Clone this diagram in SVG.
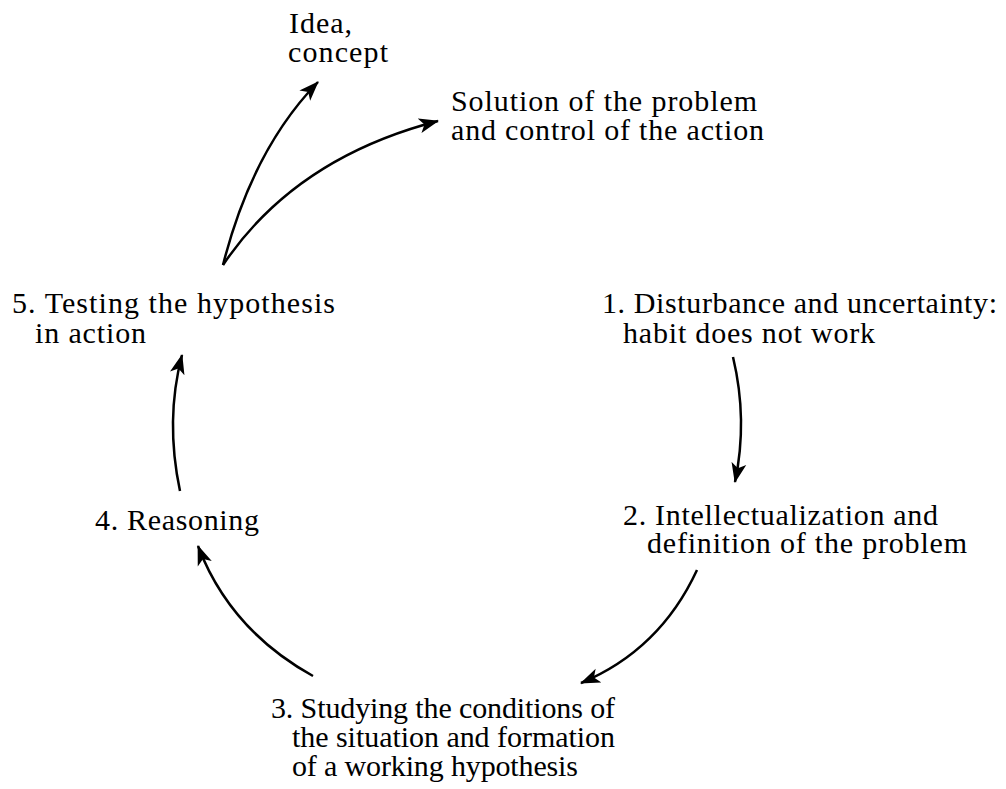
<svg xmlns="http://www.w3.org/2000/svg" width="1006" height="789" viewBox="0 0 1006 789">
<style>
text{font-family:"Liberation Serif","Times New Roman",serif;font-size:30px;fill:#000}
.c{fill:none;stroke:#000;stroke-width:2.5}
</style>
<defs>
<marker id="ah" markerUnits="userSpaceOnUse" markerWidth="22" markerHeight="16" refX="19" refY="7.5" orient="auto" viewBox="0 0 22 15">
<path d="M0,0 L20,7.5 L0,15 L5,7.5 z" fill="#000"/>
</marker>
</defs>
<rect width="1006" height="789" fill="#fff"/>
<g id="idea"><text x="289" y="33" textLength="63" lengthAdjust="spacing">Idea,</text><text x="288" y="62" textLength="100" lengthAdjust="spacing">concept</text></g>
<g id="solution"><text x="451" y="111" textLength="306" lengthAdjust="spacing">Solution of the problem</text><text x="451" y="140" textLength="313" lengthAdjust="spacing">and control of the action</text></g>
<g id="n5"><text x="12" y="313" textLength="323" lengthAdjust="spacing">5.  Testing the hypothesis</text><text x="35" y="343" textLength="111" lengthAdjust="spacing">in action</text></g>
<g id="n1"><text x="602" y="313" textLength="395" lengthAdjust="spacing">1. Disturbance and uncertainty:</text><text x="623" y="343" textLength="252" lengthAdjust="spacing">habit does not work</text></g>
<g id="n2"><text x="623" y="525" textLength="315" lengthAdjust="spacing">2. Intellectualization and</text><text x="647" y="553" textLength="320" lengthAdjust="spacing">definition of the problem</text></g>
<g id="n4"><text x="95" y="530" textLength="164" lengthAdjust="spacing">4. Reasoning</text></g>
<g id="n3"><text x="271" y="718" textLength="344" lengthAdjust="spacing">3. Studying the conditions of</text><text x="292" y="747" textLength="323" lengthAdjust="spacing">the situation and formation</text><text x="292" y="776" textLength="286" lengthAdjust="spacing">of a working hypothesis</text></g>
<g id="connectors">
<path class="c" d="M223,265 Q252,150 318,82" marker-end="url(#ah)"/>
<path class="c" d="M223,265 Q295,158 438,121" marker-end="url(#ah)"/>
<path class="c" d="M733,357 Q748,420 735,482" marker-end="url(#ah)"/>
<path class="c" d="M697,570 Q660,650 581,683" marker-end="url(#ah)"/>
<path class="c" d="M313,676 Q230,630 198,546" marker-end="url(#ah)"/>
<path class="c" d="M180,491 Q165,420 182,355" marker-end="url(#ah)"/>
</g>
</svg>
